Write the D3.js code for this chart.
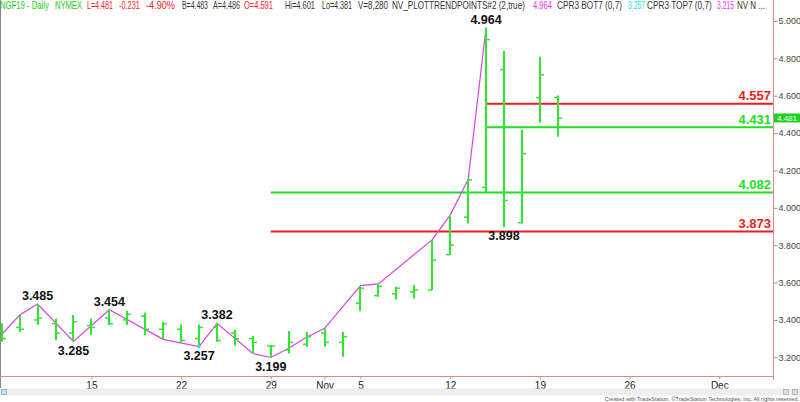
<!DOCTYPE html>
<html><head><meta charset="utf-8">
<script src="https://cdn.jsdelivr.net/npm/d3@7/dist/d3.min.js"></script>
<style>
html,body{margin:0;padding:0;background:#fff;}
svg{display:block;font-family:"Liberation Sans",Arial,sans-serif;}
</style></head>
<body><svg id="chart" width="800" height="402"></svg>
<script>
// ---------------- DATA ----------------
const barDates = ["2018-10-08","2018-10-09","2018-10-10","2018-10-11","2018-10-12",
  "2018-10-15","2018-10-16","2018-10-17","2018-10-18","2018-10-19",
  "2018-10-22","2018-10-23","2018-10-24","2018-10-25","2018-10-26",
  "2018-10-29","2018-10-30","2018-10-31","2018-11-01","2018-11-02",
  "2018-11-05","2018-11-06","2018-11-07","2018-11-08","2018-11-09",
  "2018-11-12","2018-11-13","2018-11-14","2018-11-15","2018-11-16",
  "2018-11-19","2018-11-20"];
const openVals  = [3.34,3.36,3.40,3.38,3.33, 3.37,3.41,3.40,3.42,3.35, 3.35,3.30,3.36,3.33,3.30,
  3.26,3.24,3.27,3.33,3.28, 3.49,3.53,3.54,3.55,3.56, 3.75,3.95,4.11,4.74,3.92, 4.59,4.591];
const highVals  = [3.382,3.426,3.485,3.408,3.426, 3.408,3.454,3.448,3.439,3.390, 3.376,3.376,3.382,3.346,3.314,
  3.266,3.341,3.337,3.355,3.337, 3.581,3.592,3.578,3.587,3.827, 3.961,4.152,4.964,4.840,4.416, 4.808,4.601];
const lowVals   = [3.283,3.337,3.373,3.293,3.285, 3.319,3.373,3.373,3.319,3.296, 3.278,3.257,3.283,3.262,3.218,
  3.199,3.221,3.257,3.257,3.203, 3.448,3.524,3.510,3.515,3.560, 3.747,3.917,4.082,3.898,3.917, 4.455,4.381];
const closeVals = [3.30,3.35,3.41,3.33,3.39, 3.36,3.38,3.43,3.35,3.38, 3.29,3.36,3.29,3.30,3.28,
  3.26,3.28,3.31,3.28,3.31, 3.57,3.58,3.57,3.56,3.72, 3.80,4.15,4.90,4.04,4.29, 4.712,4.481];

// trend line (NV_PLOTTRENDPOINTS) vertices
const trendDates  = ["2018-10-05","2018-10-09","2018-10-10","2018-10-12","2018-10-16","2018-10-19",
  "2018-10-23","2018-10-24","2018-10-26","2018-10-29","2018-10-30","2018-10-31","2018-11-01",
  "2018-11-05","2018-11-06","2018-11-09","2018-11-12","2018-11-13","2018-11-14"];
const trendValues = [3.22,3.426,3.485,3.285,3.454,3.296,
  3.257,3.382,3.220,3.199,3.248,3.307,3.355,
  3.584,3.593,3.830,3.961,4.151,4.964];

// swing point labels
const swingDates  = ["2018-10-10","2018-10-12","2018-10-16","2018-10-23","2018-10-24","2018-10-29","2018-11-14","2018-11-15"];
const swingValues = [3.485,3.285,3.454,3.257,3.382,3.199,4.964,3.898];
const swingTypes  = ["H","L","H","L","H","L","H","L"];

// horizontal levels
const levelValues = [4.557,4.431,4.082,3.873];
const levelStarts = ["2018-11-14","2018-11-14","2018-10-29","2018-10-29"];
const levelKinds  = ["red","green","green","red"];

// axes
const priceTicks = [3.2,3.4,3.6,3.8,4.0,4.2,4.4,4.6,4.8,5.0];
const dateTickDates  = ["2018-10-15","2018-10-22","2018-10-29","2018-11-01","2018-11-05","2018-11-12","2018-11-19","2018-11-26","2018-12-03"];
const dateTickLabels = ["15","22","29","Nov","5","12","19","26","Dec"];
const lastPrice = 4.481;

// header
const headerTexts = ["NGF19 - Daily","NYMEX","L=4.481","-0.231","-4.90%","B=4.483","A=4.486","O=4.591",
  "Hi=4.601","Lo=4.381","V=8,280","NV_PLOTTRENDPOINTS#2 (2,true)","4.964","CPR3 BOT7 (0,7)","3.257",
  "CPR3 TOP7 (0,7)","3.215","NV N ..."];
const headerColors = ["green","green","red","red","red","dark","dark","red","dark","dark","dark","dark",
  "magenta","dark","cyan","dark","magenta","dark"];
// ---------------- LAYOUT ----------------
const headerX = [0,55,87,119,146,182,213,244,285,322,358,392,533,557,628,647,717,737];
const headerW = [49,27,26,21,29,26,27,29,30,30,30,133,19,65,17,65,17,28];
const palette = {green:"#22cc22", red:"#ee2222", dark:"#333", magenta:"#ee33ee", cyan:"#22dddd"};

const svg = d3.select("#chart");
const plotRight = 773.5, plotBottom = 376.5;

// trading-day index (weekdays from Oct 8, 2018)
const base = new Date(2018,9,8);
const parse = d3.timeParse("%Y-%m-%d");
function dayIndex(s){
  const d = parse(s);
  const sign = d >= base ? 1 : -1;
  let n = 0, cur = new Date(base);
  while ((sign>0 && cur < d) || (sign<0 && cur > d)) {
    cur.setDate(cur.getDate()+sign);
    const wd = cur.getDay();
    if (wd !== 0 && wd !== 6) n += sign;
  }
  return n;
}

const x = d3.scaleLinear().domain([0,43]).range([1.7, 773.1]);
const y = d3.scaleLinear().domain([3.2,5.0]).range([357.3, 21]);

svg.append("defs").append("clipPath").attr("id","plotclip")
  .append("rect").attr("x",1).attr("y",0).attr("width",plotRight-1).attr("height",plotBottom);

// header (condensed to the narrow platform font)
const hdr = svg.append("g");
headerTexts.forEach((t,i)=>{
  const g = hdr.append("g");
  const tx = g.append("text").attr("x",0).attr("y",9.5).attr("font-size",10)
    .attr("fill",palette[headerColors[i]]).text(t);
  const w = tx.node().getComputedTextLength();
  const sx = Math.min(1, headerW[i]/w);
  g.attr("transform",`translate(${headerX[i]},0) scale(${sx},1)`);
});

// frame lines
svg.append("line").attr("x1",0.5).attr("x2",0.5).attr("y1",0).attr("y2",388).attr("stroke","#888");

// level lines
const lev = svg.append("g");
levelValues.forEach((v,i)=>{
  const col = levelKinds[i]==="red" ? "#ee1c1c" : "#1ee01e";
  lev.append("line").attr("x1",x(dayIndex(levelStarts[i]))).attr("x2",plotRight)
    .attr("y1",y(v)).attr("y2",y(v)).attr("stroke",col).attr("stroke-width",2);
  lev.append("text").attr("x",771).attr("y",y(v)-3.5).attr("text-anchor","end")
    .attr("font-size",13).attr("font-weight","bold").attr("fill",col).text(d3.format(".3f")(v));
});

// trend line
const line = d3.line().x(d=>x(dayIndex(d[0]))).y(d=>y(d[1]));
svg.append("path").attr("clip-path","url(#plotclip)")
  .attr("d", line(trendDates.map((d,i)=>[d,trendValues[i]])))
  .attr("fill","none").attr("stroke","#e040e0").attr("stroke-width",1.2);

// OHLC bars
const bars = svg.append("g").attr("stroke","#2ee82e");
barDates.forEach((d,i)=>{
  const cx = Math.round(x(dayIndex(d)));
  bars.append("line").attr("x1",cx).attr("x2",cx).attr("y1",y(highVals[i])).attr("y2",y(lowVals[i])).attr("stroke-width",2);
  bars.append("line").attr("x1",cx-4).attr("x2",cx).attr("y1",y(openVals[i])).attr("y2",y(openVals[i])).attr("stroke-width",1.5);
  bars.append("line").attr("x1",cx).attr("x2",cx+4).attr("y1",y(closeVals[i])).attr("y2",y(closeVals[i])).attr("stroke-width",1.5);
});

// cyan marker at 3.257 low
svg.append("rect").attr("x",x(dayIndex("2018-10-23"))-1.5).attr("y",y(3.257)-1.5)
  .attr("width",3).attr("height",3).attr("fill","#33dddd");

// swing labels
svg.append("g").selectAll("text").data(swingValues).join("text")
  .attr("x",(d,i)=>x(dayIndex(swingDates[i])))
  .attr("y",(d,i)=> swingTypes[i]==="H" ? y(d)-4 : y(d)+13.5)
  .attr("text-anchor","middle").attr("font-size",12.5).attr("font-weight","bold").attr("fill","#111")
  .text(d=>d3.format(".3f")(d));

// right axis
const ya = svg.append("g").attr("transform",`translate(${plotRight},0)`)
  .call(d3.axisRight(y).tickValues(priceTicks).tickFormat(d3.format(".3f")).tickSize(4).tickPadding(1));
ya.select(".domain").remove();
ya.selectAll(".tick line").attr("stroke","#999");
ya.selectAll(".tick text").attr("font-size",9).attr("fill","#444").attr("font-family","Liberation Sans, Arial, sans-serif");
svg.append("line").attr("x1",plotRight).attr("x2",plotRight).attr("y1",0).attr("y2",380).attr("stroke","#e08888");

// bottom axis
const xa = svg.append("g").attr("transform",`translate(0,${plotBottom})`)
  .call(d3.axisBottom(x).tickValues(dateTickDates.map(dayIndex)).tickFormat((d,i)=>dateTickLabels[i]).tickSize(3).tickPadding(2));
xa.select(".domain").remove();
xa.selectAll(".tick line").attr("stroke","#e08888");
xa.selectAll(".tick text").attr("font-size",10).attr("fill","#222").attr("font-family","Liberation Sans, Arial, sans-serif");
svg.append("line").attr("x1",0).attr("x2",plotRight).attr("y1",plotBottom).attr("y2",plotBottom).attr("stroke","#e08888");

// last price marker
svg.append("rect").attr("x",774).attr("y",y(lastPrice)-4.5).attr("width",26).attr("height",9).attr("fill","#1ed21e");
svg.append("text").attr("x",787).attr("y",y(lastPrice)+3).attr("text-anchor","middle")
  .attr("font-size",8).attr("fill","#fff").text(d3.format(".3f")(lastPrice));

// scroll bar
svg.append("rect").attr("x",0).attr("y",388.5).attr("width",800).attr("height",7).attr("fill","#eeeeee");
svg.append("rect").attr("x",1.5).attr("y",389.5).attr("width",5).attr("height",5).attr("fill","#cfe0f5").attr("stroke","#6a8fc0").attr("stroke-width",0.6);
svg.append("rect").attr("x",783.5).attr("y",389.5).attr("width",5).attr("height",5).attr("fill","#ddd").attr("stroke","#999").attr("stroke-width",0.6);
svg.append("rect").attr("x",792.5).attr("y",389.5).attr("width",5).attr("height",5).attr("fill","#ddd").attr("stroke","#999").attr("stroke-width",0.6);

// footer
svg.append("text").attr("x",799).attr("y",401).attr("text-anchor","end").attr("font-size",5.5).attr("fill","#555")
  .text("Created with TradeStation. ©TradeStation Technologies, Inc. All rights reserved.");
</script></body></html>
